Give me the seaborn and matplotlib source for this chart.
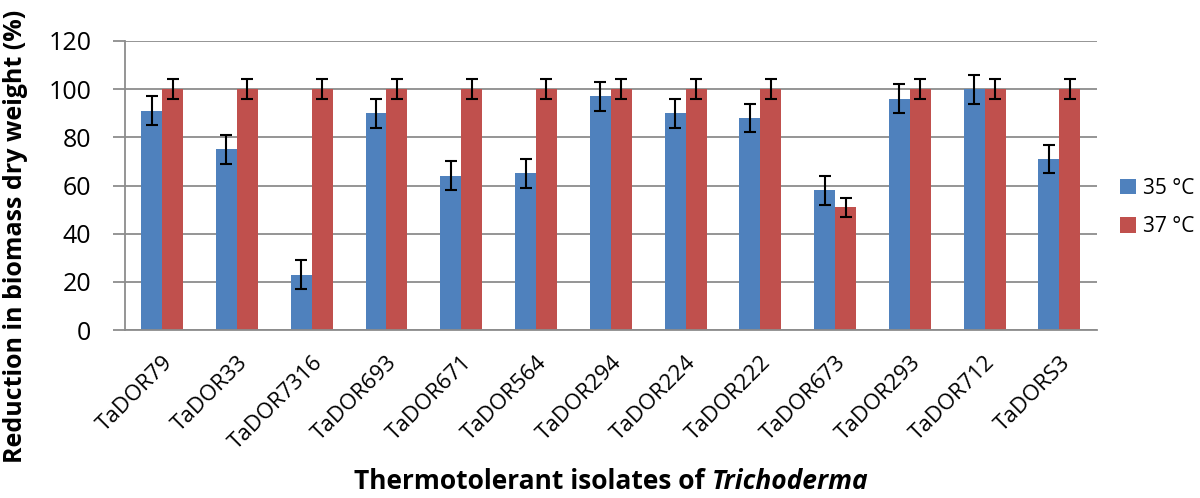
import matplotlib
matplotlib.use("Agg")
import matplotlib.pyplot as plt
import seaborn as sns
import pandas as pd
import numpy as np

isolates = ["TaDOR79", "TaDOR33", "TaDOR7316", "TaDOR693", "TaDOR671", "TaDOR564",
            "TaDOR294", "TaDOR224", "TaDOR222", "TaDOR673", "TaDOR293", "TaDOR712", "TaDORS3"]
vals_35 = [91, 75, 23, 90, 64, 65, 97, 90, 88, 58, 96, 100, 71]
err_35 = [6, 6, 6, 6, 6, 6, 6, 6, 6, 6, 6, 6, 6]
vals_37 = [100, 100, 100, 100, 100, 100, 100, 100, 100, 51, 100, 100, 100]
err_37 = [4, 4, 4, 4, 4, 4, 4, 4, 4, 4, 4, 4, 4]
series = ["35 °C", "37 °C"]
colors = ["#4F81BD", "#C0504D"]
yticks = [0, 20, 40, 60, 80, 100, 120]

df = pd.DataFrame({
    "isolate": isolates * 2,
    "value": vals_35 + vals_37,
    "err": err_35 + err_37,
    "temp": [series[0]] * len(isolates) + [series[1]] * len(isolates),
})

sns.set_theme(style="white")
plt.rcParams["font.family"] = ["Open Sans", "DejaVu Sans"]
plt.rcParams["text.color"] = "black"
plt.rcParams["axes.labelcolor"] = "black"
plt.rcParams["xtick.color"] = "black"
plt.rcParams["ytick.color"] = "black"

fig = plt.figure(figsize=(12, 4.98), dpi=100)
ax = fig.add_axes([0.104, 0.337, 0.81, 0.581])

sns.barplot(data=df, x="isolate", y="value", hue="temp", palette=colors,
            width=0.56, errorbar=None, ax=ax, saturation=1, legend=True,
            linewidth=0, edgecolor="none")

# error bars at bar centers
for cont, errs in zip(ax.containers, [err_35, err_37]):
    for bar, e in zip(cont, errs):
        cx = bar.get_x() + bar.get_width() / 2
        ax.errorbar(cx, bar.get_height(), yerr=e, color="black", capsize=4,
                    elinewidth=1.5, capthick=1.5, fmt="none", zorder=5)

ax.set_ylim(0, 120)
ax.set_yticks(yticks)
ax.set_yticklabels([str(t) for t in yticks], fontsize=18)
ax.set_xlim(-0.5, len(isolates) - 0.5)
ax.yaxis.grid(True, color="#8c8c8c", linewidth=1.3)
ax.set_axisbelow(True)
for s in ["top", "right"]:
    ax.spines[s].set_visible(False)
for s in ["left", "bottom"]:
    ax.spines[s].set_color("#8c8c8c")
    ax.spines[s].set_linewidth(1.3)
ax.tick_params(axis="y", which="both", left=True, length=9, width=1.3, color="#8c8c8c",
               labelcolor="black", pad=15)
ax.tick_params(axis="x", length=0, pad=16, labelcolor="black")
plt.setp(ax.get_xticklabels(), rotation=45, ha="right", rotation_mode="anchor", fontsize=16)

ax.set_xlabel("")
ax.set_ylabel("Reduction in biomass dry weight (%)", fontsize=18, fontweight="bold", color="black")
ax.yaxis.set_label_coords(-0.0995, 0.325)

leg = ax.legend(loc="center left", bbox_to_anchor=(1120 / 1200, 1 - 207.5 / 498),
                bbox_transform=fig.transFigure, frameon=False, borderpad=0, borderaxespad=0,
                fontsize=15, handlelength=0.75, handleheight=0.75, handletextpad=0.35,
                labelspacing=0.85)
for t in leg.get_texts():
    t.set_color("black")

# x label with italic part
fig.canvas.draw()
renderer = fig.canvas.get_renderer()
ylab = 1 - 481 / 498
t1 = fig.text(0, ylab, "Thermotolerant isolates of ", fontsize=19, fontweight="bold",
              va="center", color="black")
t2 = fig.text(0, ylab, "Trichoderma", fontsize=19, fontweight="bold", style="italic",
              va="center", color="black")
w1 = t1.get_window_extent(renderer).width
w2 = t2.get_window_extent(renderer).width
figw = fig.get_figwidth() * fig.dpi
center = 611
start = center - (w1 + w2) / 2
t1.set_x(start / figw)
t2.set_x((start + w1) / figw)

fig.savefig("out.png", dpi=100)
